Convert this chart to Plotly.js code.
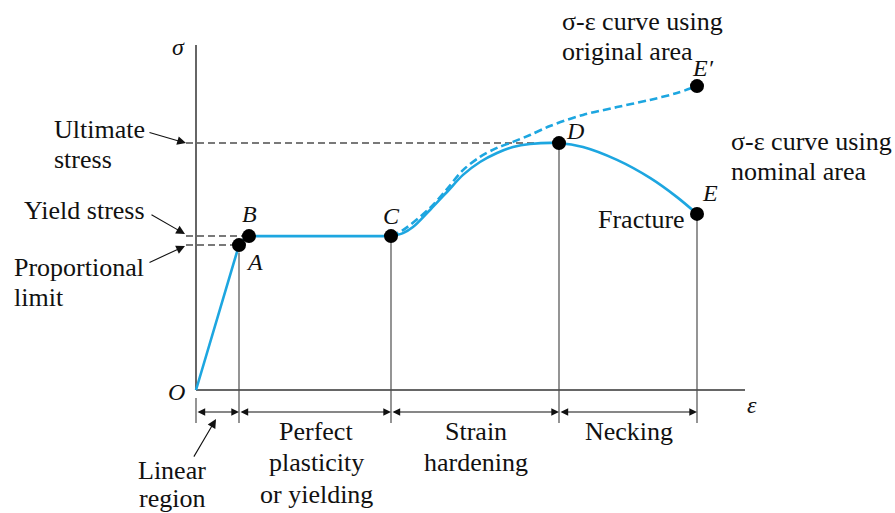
<!DOCTYPE html>
<html>
<head>
<meta charset="utf-8">
<script src="https://cdn.plot.ly/plotly-3.0.1.min.js"></script>
<style>html,body{margin:0;padding:0;background:#fff;}#chart{width:895px;height:513px;}</style>
</head>
<body>
<div id="chart"></div>
<script>
// Strain (arbitrary units) and stress (arbitrary units)
const elasticStrain = [0, 8.6, 9.6, 10.6, 39];
const elasticStress = [0, 48.3, 50.3, 51.3, 51.3];

const nominalStrain = [39, 41.4, 43.4, 46.8, 50.2, 53.4, 56.8, 60.2, 63.4, 66.8, 72.6, 77.4, 84.2, 90.8, 96.2, 100.2];
const nominalStress = [51.3, 52.3, 54.3, 60, 66, 71.7, 76, 79, 81, 82, 82.3, 81, 76.7, 70.7, 64.3, 58.7];

const originalStrain = [39, 41.4, 46.8, 50.2, 53.4, 56.8, 60.2, 63.4, 66.8, 70.8, 77.4, 84.2, 90.8, 96.2, 100.2];
const originalStress = [51.3, 53.3, 60.7, 67, 73.3, 77.7, 80.7, 82.7, 85, 88, 91.7, 94.3, 96.7, 99, 101.3];

const pointNames = ['A', 'B', 'C', 'D', 'E', "E′"];
const pointStrain = [8.6, 10.6, 39, 72.6, 100.2, 100.2];
const pointStress = [48.3, 51.3, 51.3, 82.3, 58.7, 101.3];

const ultimateStress = 82.3;
const yieldStress = 51.3;
const proportionalLimit = 48.3;

const regionBounds = [0, 8.6, 39, 72.6, 100.2];
const regionLabels = [["Linear", "region"], ["Perfect", "plasticity", "or yielding"], ["Strain", "hardening"], ["Necking"]];

const BLUE = '#1DA6E0';
const GRAY = '#4d4d4d';
const SERIF = 'Times New Roman';
const SERIF_IT = 'Liberation Serif';

const traces = [
  {x: elasticStrain, y: elasticStress, mode: 'lines', line: {color: BLUE, width: 2.6}, hoverinfo: 'skip'},
  {x: originalStrain, y: originalStress, mode: 'lines', line: {color: BLUE, width: 2.6, dash: '8px,4px', shape: 'spline', smoothing: 0.9}, hoverinfo: 'skip'},
  {x: nominalStrain, y: nominalStress, mode: 'lines', line: {color: BLUE, width: 2.6, shape: 'spline', smoothing: 0.9}, hoverinfo: 'skip'},
  {x: pointStrain, y: pointStress, mode: 'markers', marker: {color: '#000', size: 14}, text: pointNames, hoverinfo: 'text'}
];

const bottomTick = -11;
const shapes = [];
function seg(x0, y0, x1, y1, color, width, dash) {
  shapes.push({type: 'line', xref: 'x', yref: 'y', x0: x0, y0: y0, x1: x1, y1: y1, layer: 'below',
    line: {color: color, width: width, dash: dash || 'solid'}});
}
// axes
seg(0, 115, 0, 0, '#333', 1.5);
seg(0, 0, 109.8, 0, '#333', 1.5);
// tick under origin
seg(0, -2.7, 0, bottomTick, GRAY, 1.2);
// vertical lines from points down
seg(pointStrain[0], pointStress[0] - 2.5, pointStrain[0], bottomTick, GRAY, 1.2);
seg(pointStrain[2], pointStress[2], pointStrain[2], bottomTick, GRAY, 1.2);
seg(pointStrain[3], pointStress[3], pointStrain[3], bottomTick, GRAY, 1.2);
seg(pointStrain[4], pointStress[4], pointStrain[4], bottomTick, GRAY, 1.2);
// dashed reference lines
seg(-2, ultimateStress, pointStrain[3], ultimateStress, GRAY, 1.5, '7px,4px');
seg(-2, yieldStress, pointStrain[1], yieldStress, GRAY, 1.5, '7px,4px');
seg(-2, proportionalLimit, pointStrain[0], proportionalLimit, GRAY, 1.5, '7px,4px');

const ann = [];
function txt(x, y, t, opts) {
  ann.push(Object.assign({xref: 'x', yref: 'y', x: x, y: y, text: t, showarrow: false,
    xanchor: 'left', yanchor: 'middle', font: {family: SERIF, size: 26, style: 'normal', color: '#111'}}, opts || {}));
}
function arrow(x, y, ax, ay, opts) {
  ann.push(Object.assign({xref: 'x', yref: 'y', axref: 'x', ayref: 'y', x: x, y: y, ax: ax, ay: ay, text: '',
    showarrow: true, arrowhead: 2, arrowsize: 1.6, arrowwidth: 1.1, arrowcolor: '#111'}, opts || {}));
}
// left labels
txt(-28.8, 86.7, 'Ultimate');
txt(-28.8, 76.7, 'stress');
txt(-34.8, 59.7, 'Yield stress');
txt(-36.8, 40.7, 'Proportional');
txt(-36.8, 30.7, 'limit');
arrow(-2, 82.3, -9.6, 86);
arrow(-2.2, 52, -9.2, 58.7);
arrow(-2.2, 48, -9.6, 42.3);
// right labels
txt(72.8, 122.7, 'σ-ε curve using');
txt(72.8, 112.7, 'original area');
txt(106.6, 83, 'σ-ε curve using');
txt(106.6, 72.7, 'nominal area');
txt(98.2, 56.7, 'Fracture', {xanchor: 'right'});
// italic letters
const it = {xanchor: 'center', font: {family: SERIF_IT, size: 24, style: 'italic', color: '#111'}};
txt(-3.6, 114.3, 'σ', it);
txt(-4, -0.7, 'O', it);
txt(111.2, -5, 'ε', it);
const letterX = [11.6, 10.6, 39, 75.8, 102.8, 101.4];
const letterY = [42.7, 58.7, 58, 86.3, 65.7, 107.3];
pointNames.forEach((n, i) => txt(letterX[i], letterY[i], n, it));
// region brackets
const bracketY = -7.33;
for (let i = 0; i < regionBounds.length - 1; i++) {
  arrow(regionBounds[i + 1], bracketY, regionBounds[i], bracketY, {arrowside: 'end+start', arrowsize: 1.4});
}
const lineYs = [-13.7, -24.3, -34.7];
const centers = [null, 24, 56, 86.6];
for (let i = 1; i < regionLabels.length; i++) {
  regionLabels[i].forEach((t, j) => txt(centers[i], lineYs[j], t, {xanchor: 'center'}));
}
txt(-4.8, -26.7, regionLabels[0][0], {xanchor: 'center'});
txt(-4.8, -36.2, regionLabels[0][1], {xanchor: 'center'});
arrow(4, -9.7, -0.6, -22.7);

const layout = {
  width: 895, height: 513,
  margin: {l: 0, r: 0, t: 0, b: 0, pad: 0},
  paper_bgcolor: '#fff', plot_bgcolor: '#fff',
  showlegend: false,
  xaxis: {range: [-39.2, 139.8], visible: false, fixedrange: true},
  yaxis: {range: [-41, 130], visible: false, fixedrange: true},
  shapes: shapes,
  annotations: ann
};
Plotly.newPlot('chart', traces, layout, {displayModeBar: false, staticPlot: true});
</script>
</body>
</html>
